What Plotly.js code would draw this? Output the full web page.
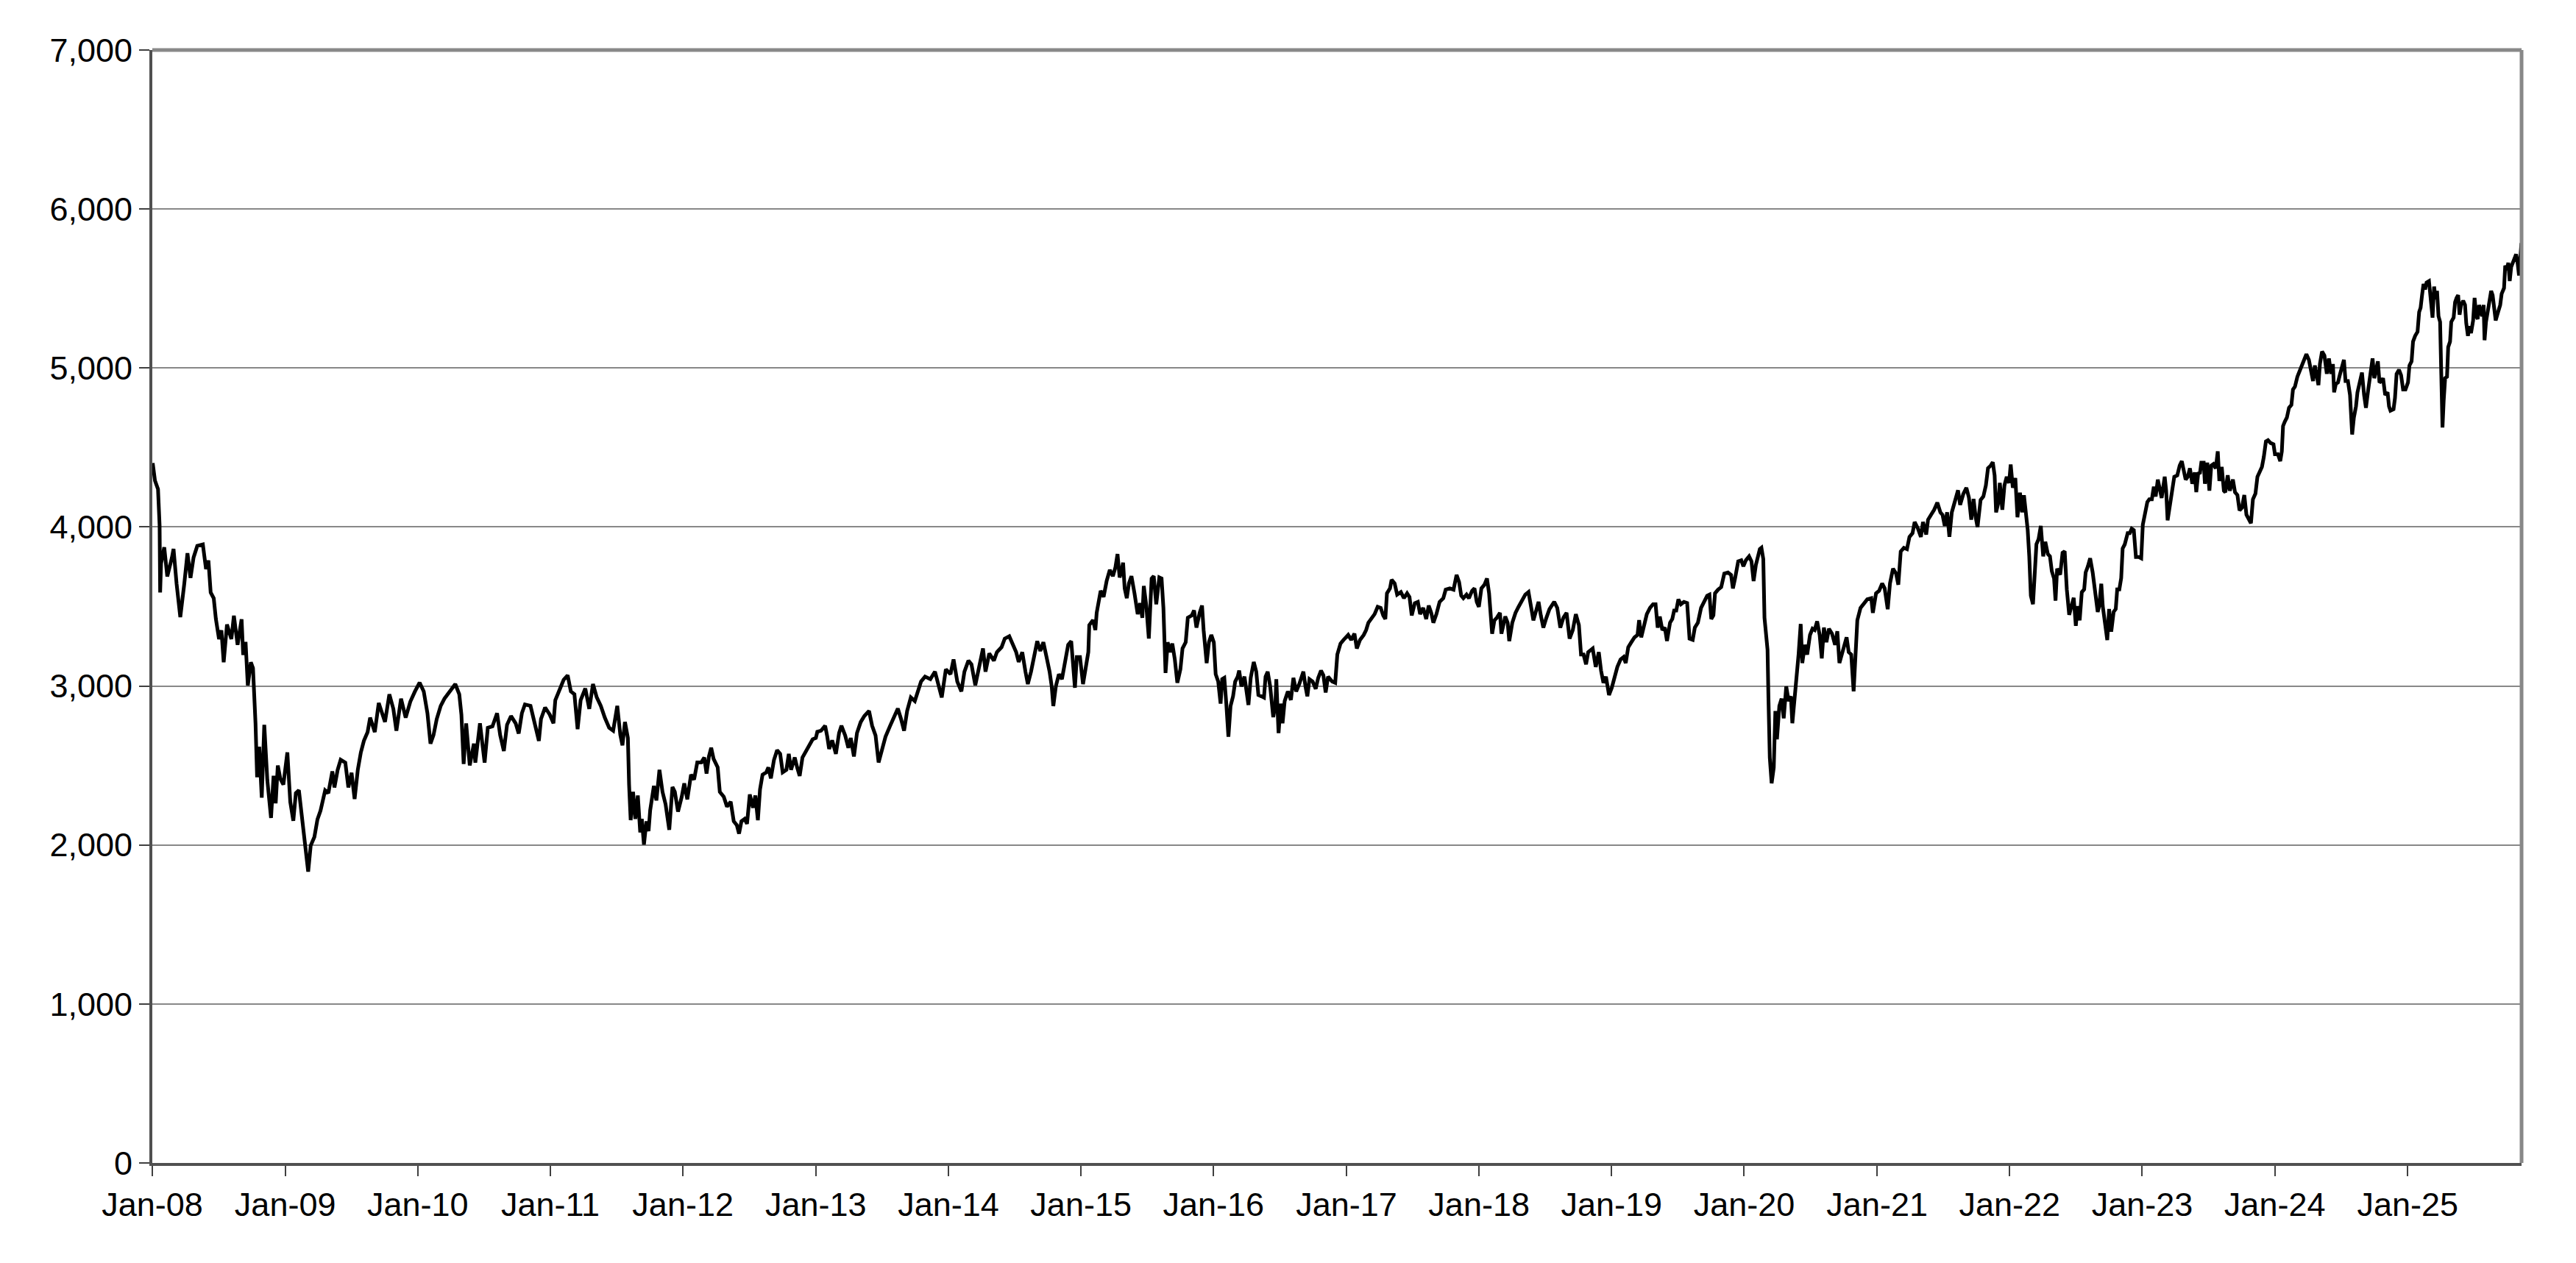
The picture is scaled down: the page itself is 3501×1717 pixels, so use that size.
<!DOCTYPE html>
<html>
<head>
<meta charset="utf-8">
<script src="https://cdn.plot.ly/plotly-3.0.1.min.js"></script>
<style>
  html, body { margin: 0; padding: 0; background: #fff; }
  #chart { width: 3501px; height: 1717px; }
</style>
</head>
<body>
<div id="chart"></div>
<script>
// time in years after 1 Jan 2008
const yearsFromStart = [
  0.003,0.020,0.043,0.055,0.059,0.066,0.090,0.113,0.148,0.160,0.183,0.211,0.241,0.265,0.288,0.311,0.339,0.381,0.405,0.423,
  0.440,0.463,0.479,0.503,0.521,0.538,0.563,0.596,0.615,0.643,0.673,0.685,0.703,0.720,0.743,0.759,0.778,0.790,0.806,0.825,
  0.844,0.867,0.895,0.914,0.930,0.946,0.965,0.988,1.018,1.040,1.063,1.082,1.105,1.128,1.152,1.175,1.194,1.222,1.245,1.268,
  1.303,1.327,1.357,1.373,1.397,1.420,1.455,1.478,1.502,1.525,1.549,1.572,1.595,1.623,1.642,1.677,1.707,1.730,1.754,1.787,
  1.817,1.840,1.875,1.910,1.945,1.980,2.015,2.046,2.074,2.097,2.120,2.144,2.174,2.202,2.237,2.284,2.314,2.330,2.347,2.366,
  2.393,2.424,2.435,2.470,2.505,2.529,2.564,2.599,2.622,2.650,2.674,2.704,2.739,2.762,2.786,2.809,2.851,2.884,2.914,2.930,
  2.961,2.996,3.024,3.038,3.066,3.101,3.131,3.155,3.182,3.206,3.229,3.264,3.294,3.322,3.350,3.381,3.411,3.444,3.474,3.505,
  3.528,3.544,3.563,3.585,3.594,3.606,3.624,3.641,3.660,3.678,3.690,3.706,3.725,3.741,3.753,3.781,3.800,3.823,3.846,3.869,
  3.897,3.921,3.939,3.963,3.991,4.010,4.033,4.061,4.084,4.108,4.138,4.161,4.178,4.196,4.213,4.231,4.262,4.278,4.308,4.332,
  4.360,4.383,4.406,4.423,4.441,4.465,4.483,4.504,4.528,4.546,4.565,4.581,4.600,4.628,4.644,4.663,4.686,4.710,4.733,4.752,
  4.780,4.798,4.815,4.843,4.861,4.880,4.901,4.927,4.955,4.978,5.002,5.013,5.041,5.072,5.088,5.102,5.125,5.153,5.177,5.195,
  5.223,5.247,5.265,5.289,5.312,5.340,5.368,5.403,5.426,5.452,5.475,5.499,5.527,5.562,5.587,5.620,5.643,5.667,5.690,5.718,
  5.748,5.772,5.795,5.825,5.865,5.900,5.928,5.951,5.982,6.017,6.040,6.068,6.099,6.122,6.152,6.175,6.204,6.232,6.262,6.281,
  6.309,6.344,6.367,6.402,6.426,6.460,6.488,6.512,6.531,6.558,6.582,6.600,6.624,6.647,6.671,6.694,6.717,6.741,6.764,6.780,
  6.792,6.811,6.834,6.857,6.881,6.904,6.927,6.944,6.955,6.969,6.993,7.016,7.040,7.056,7.063,7.091,7.109,7.119,7.149,7.171,
  7.194,7.218,7.241,7.260,7.276,7.292,7.306,7.318,7.330,7.346,7.362,7.381,7.404,7.428,7.446,7.463,7.474,7.493,7.512,7.533,
  7.549,7.568,7.591,7.608,7.622,7.638,7.654,7.673,7.689,7.708,7.727,7.750,7.766,7.790,7.806,7.836,7.853,7.871,7.895,7.913,
  7.925,7.948,7.965,7.983,8.002,8.016,8.035,8.053,8.065,8.081,8.096,8.112,8.128,8.147,8.163,8.182,8.193,8.210,8.233,8.249,
  8.263,8.280,8.303,8.322,8.338,8.361,8.380,8.392,8.408,8.427,8.450,8.466,8.473,8.490,8.506,8.520,8.536,8.560,8.583,8.602,
  8.623,8.646,8.677,8.693,8.707,8.723,8.747,8.770,8.789,8.810,8.828,8.845,8.863,8.894,8.917,8.933,8.957,8.980,9.015,9.038,
  9.062,9.080,9.104,9.132,9.150,9.167,9.190,9.214,9.237,9.260,9.279,9.295,9.307,9.330,9.342,9.365,9.384,9.412,9.435,9.459,
  9.477,9.494,9.517,9.540,9.557,9.580,9.603,9.622,9.641,9.657,9.680,9.704,9.732,9.750,9.781,9.809,9.832,9.851,9.867,9.883,
  9.907,9.925,9.949,9.967,9.984,10.000,10.019,10.042,10.061,10.077,10.100,10.117,10.135,10.159,10.170,10.199,10.217,10.229,10.252,10.276,
  10.299,10.327,10.350,10.374,10.392,10.411,10.427,10.450,10.467,10.486,10.509,10.532,10.568,10.591,10.614,10.637,10.661,10.684,10.708,10.731,
  10.754,10.770,10.789,10.808,10.824,10.858,10.881,10.904,10.921,10.939,10.958,10.981,11.002,11.021,11.044,11.068,11.091,11.107,11.126,11.149,
  11.173,11.196,11.208,11.224,11.243,11.266,11.290,11.313,11.332,11.348,11.364,11.383,11.402,11.418,11.441,11.458,11.472,11.488,11.504,11.523,
  11.546,11.570,11.588,11.612,11.628,11.651,11.675,11.698,11.721,11.738,11.752,11.768,11.780,11.803,11.827,11.850,11.878,11.901,11.915,11.931,
  11.955,11.978,11.994,12.013,12.037,12.055,12.071,12.088,12.102,12.118,12.130,12.144,12.153,12.165,12.176,12.183,12.193,12.207,12.223,12.235,
  12.247,12.265,12.282,12.298,12.317,12.335,12.352,12.363,12.382,12.398,12.410,12.426,12.438,12.457,12.475,12.496,12.515,12.531,12.550,12.569,
  12.585,12.601,12.620,12.639,12.662,12.685,12.702,12.718,12.737,12.755,12.772,12.788,12.807,12.825,12.837,12.853,12.877,12.905,12.928,12.958,
  12.970,12.994,13.017,13.040,13.059,13.082,13.099,13.122,13.145,13.162,13.180,13.204,13.227,13.246,13.269,13.285,13.309,13.332,13.348,13.372,
  13.386,13.409,13.432,13.456,13.479,13.495,13.512,13.530,13.547,13.565,13.589,13.612,13.628,13.652,13.675,13.694,13.712,13.729,13.745,13.759,
  13.782,13.803,13.822,13.838,13.857,13.874,13.888,13.899,13.916,13.927,13.946,13.962,13.979,13.997,14.009,14.025,14.044,14.060,14.079,14.095,
  14.109,14.126,14.137,14.149,14.161,14.177,14.189,14.203,14.219,14.236,14.254,14.270,14.289,14.305,14.319,14.336,14.347,14.359,14.382,14.400,
  14.416,14.432,14.450,14.468,14.484,14.500,14.513,14.529,14.545,14.563,14.574,14.590,14.608,14.627,14.642,14.665,14.676,14.692,14.703,14.722,
  14.737,14.751,14.767,14.785,14.801,14.812,14.828,14.842,14.853,14.869,14.891,14.907,14.921,14.937,14.953,14.975,14.993,15.005,15.020,15.039,
  15.054,15.073,15.088,15.102,15.118,15.134,15.147,15.170,15.181,15.192,15.208,15.224,15.242,15.265,15.283,15.299,15.315,15.328,15.344,15.360,
  15.378,15.396,15.408,15.423,15.435,15.446,15.464,15.473,15.491,15.507,15.521,15.537,15.555,15.570,15.582,15.600,15.616,15.627,15.645,15.661,
  15.684,15.700,15.718,15.734,15.752,15.770,15.786,15.801,15.820,15.835,15.854,15.869,15.888,15.903,15.917,15.933,15.949,15.967,15.990,16.001,
  16.023,16.041,16.053,16.062,16.075,16.091,16.107,16.125,16.137,16.152,16.170,16.189,16.204,16.220,16.238,16.257,16.272,16.288,16.302,16.318,
  16.329,16.340,16.356,16.374,16.392,16.408,16.424,16.438,16.447,16.460,16.476,16.492,16.506,16.521,16.533,16.551,16.567,16.583,16.596,16.612,
  16.623,16.641,16.657,16.673,16.687,16.703,16.718,16.737,16.750,16.764,16.777,16.789,16.804,16.816,16.832,16.850,16.861,16.872,16.895,16.906,
  16.918,16.936,16.952,16.967,16.985,17.004,17.015,17.031,17.042,17.058,17.076,17.088,17.099,17.110,17.121,17.133,17.144,17.162,17.178,17.189,
  17.201,17.212,17.223,17.234,17.246,17.253,17.264,17.273,17.284,17.298,17.307,17.321,17.330,17.348,17.359,17.370,17.382,17.393,17.404,17.420,
  17.434,17.443,17.456,17.466,17.479,17.495,17.506,17.518,17.529,17.540,17.552,17.563,17.574,17.581,17.592,17.601,17.615,17.631,17.642,17.653,
  17.665,17.683,17.699,17.710,17.728,17.737,17.751,17.760,17.771,17.782,17.796,17.805,17.819,17.830,17.841,17.850,17.859
]

// index level at each of those times
const indexLevel = [
  4402,4292,4238,4009,3588,3771,3872,3689,3808,3862,3643,3433,3643,3835,3680,3808,3881,3890,3735,3790,
  3588,3552,3423,3295,3350,3149,3387,3295,3442,3259,3420,3195,3277,3003,3149,3112,2765,2426,2618,2298,
  2756,2408,2170,2435,2262,2500,2417,2380,2582,2271,2152,2326,2344,2179,1978,1832,1996,2051,2161,2216,
  2344,2326,2463,2362,2472,2536,2518,2362,2454,2289,2472,2582,2655,2710,2801,2710,2893,2838,2774,2948,
  2856,2719,2920,2801,2902,2966,3021,2966,2829,2637,2692,2792,2875,2920,2957,3012,2948,2820,2509,2765,
  2500,2637,2518,2765,2518,2737,2746,2829,2692,2591,2756,2811,2765,2701,2829,2884,2875,2756,2655,2792,
  2865,2820,2765,2911,2975,3039,3067,2966,2948,2728,2911,2984,2856,3012,2929,2875,2801,2737,2719,2875,
  2692,2627,2774,2673,2380,2156,2334,2164,2311,2079,2164,2002,2149,2087,2218,2372,2280,2473,2334,2257,
  2095,2365,2334,2210,2303,2388,2287,2442,2411,2519,2519,2550,2449,2557,2611,2542,2488,2334,2303,2241,
  2272,2149,2125,2071,2149,2164,2133,2318,2234,2311,2156,2349,2442,2457,2488,2419,2534,2596,2573,2457,
  2473,2573,2473,2550,2488,2434,2550,2588,2627,2665,2673,2712,2719,2750,2681,2604,2658,2573,2704,2750,
  2689,2611,2673,2557,2704,2773,2812,2843,2750,2689,2519,2604,2681,2750,2796,2858,2796,2719,2843,2928,
  2905,2974,3028,3059,3043,3090,2997,2928,3105,3074,3167,3028,2966,3090,3159,3136,3005,3120,3236,3090,
  3205,3159,3213,3244,3298,3313,3259,3213,3151,3213,3090,3012,3090,3182,3282,3220,3275,3182,3090,2997,
  2874,2997,3074,3043,3167,3259,3282,3120,2989,3182,3182,3012,3151,3213,3383,3414,3352,3460,3599,3560,
  3660,3730,3691,3745,3830,3683,3722,3776,3614,3552,3645,3691,3583,3452,3521,3429,3629,3506,3298,3676,
  3691,3514,3683,3676,3491,3082,3275,3213,3267,3167,3020,3105,3236,3275,3429,3444,3475,3367,3460,3506,
  3352,3144,3275,3321,3275,3074,3028,2889,3043,3051,2889,2681,2874,2935,3028,3059,3097,2997,3059,2943,
  2881,3051,3151,3090,2943,2935,2927,3059,3090,2997,2804,2881,3043,2704,2889,2766,2905,2966,2912,3051,
  2966,3012,3090,2997,2935,3043,3028,2982,3051,3097,3067,2959,3059,3028,3020,3198,3267,3290,3321,3290,
  3329,3236,3290,3321,3352,3398,3429,3452,3498,3491,3444,3421,3583,3614,3668,3645,3575,3591,3552,3583,
  3560,3444,3521,3529,3452,3491,3421,3506,3460,3398,3452,3529,3552,3606,3614,3606,3699,3653,3568,3552,
  3575,3552,3599,3614,3529,3498,3614,3637,3676,3583,3329,3413,3429,3460,3329,3437,3398,3282,3398,3460,
  3498,3545,3575,3591,3514,3413,3460,3529,3444,3367,3429,3483,3529,3491,3367,3429,3460,3298,3352,3452,
  3383,3198,3198,3136,3213,3236,3120,3213,3097,3020,3059,2943,2989,3051,3120,3167,3182,3144,3244,3275,
  3306,3321,3414,3306,3383,3452,3491,3514,3514,3367,3437,3352,3367,3283,3398,3421,3475,3475,3545,3514,
  3529,3522,3298,3290,3367,3398,3491,3537,3568,3575,3421,3444,3583,3606,3622,3707,3714,3699,3614,3676,
  3784,3791,3753,3791,3815,3784,3660,3761,3815,3861,3869,3799,3429,3321,3228,2920,2550,2388,2488,2843,
  2665,2874,2920,2797,2997,2905,2935,2766,2920,3097,3198,3390,3144,3259,3198,3321,3360,3352,3406,3321,
  3174,3367,3275,3360,3329,3259,3344,3144,3198,3259,3306,3213,3198,2966,3198,3414,3491,3522,3545,3552,
  3460,3583,3599,3645,3614,3483,3645,3738,3707,3637,3846,3869,3861,3938,3961,4031,3992,3938,4031,3953,
  4046,4077,4108,4154,4092,4077,4007,4092,3938,4092,4170,4231,4139,4208,4247,4185,4046,4177,4061,4000,
  4170,4192,4262,4370,4385,4408,4324,4092,4154,4277,4108,4262,4316,4277,4393,4247,4308,4061,4216,4092,
  4200,4061,3984,3815,3568,3514,3738,3892,3923,4007,3815,3907,3830,3815,3722,3676,3537,3738,3700,3838,
  3847,3608,3448,3519,3555,3378,3502,3413,3590,3608,3714,3750,3803,3714,3625,3466,3502,3643,3502,3378,
  3289,3484,3342,3466,3484,3608,3608,3679,3865,3891,3962,3962,3989,3980,3811,3811,3803,4015,4086,4157,
  4174,4174,4254,4192,4298,4245,4183,4316,4228,4042,4139,4210,4316,4325,4387,4414,4360,4298,4316,4369,
  4272,4343,4219,4343,4334,4405,4405,4272,4405,4228,4387,4396,4369,4476,4290,4378,4228,4219,4325,4228,
  4298,4219,4201,4104,4121,4201,4077,4051,4024,4174,4210,4316,4352,4378,4440,4538,4546,4529,4520,4458,
  4458,4414,4476,4635,4662,4688,4750,4768,4865,4883,4945,4989,5007,5060,5087,5051,4980,4918,5016,4918,
  4892,5025,5104,5078,4963,5060,4963,5025,4847,4900,4909,4963,5007,5051,4918,4918,4830,4582,4688,4759,
  4847,4909,4971,4830,4750,4856,4936,5060,4936,4998,5042,4909,4918,4936,4830,4847,4759,4732,4741,4812,
  4963,4989,4954,4865,4865,4909,5016,5042,5166,5202,5228,5352,5379,5458,5529,5494,5538,5547,5414,5317,
  5512,5432,5485,5326,5290,4883,4626,4794,4936,4945,5131,5166,5290,5317,5414,5441,5458,5335,5396,5423,
  5396,5282,5202,5264,5219,5299,5441,5326,5308,5396,5352,5326,5396,5175,5290,5343,5432,5485,5458,5361,
  5299,5352,5396,5467,5503,5644,5618,5662,5547,5636,5662,5689,5715,5662,5582,5680,5786
]

const axisStartYear = 0
const axisEndYear = 17.86
const yTickValues = [0, 1000, 2000, 3000, 4000, 5000, 6000, 7000]

const DAY_MS = 86400000
const START_MS = Date.UTC(2008, 0, 1)

function toDate(yrs) {
  const d = new Date(START_MS + yrs * 365.25 * DAY_MS)
  return d.toISOString().slice(0, 19).replace('T', ' ')
}

const tickFont = { family: 'Liberation Sans, Arial, sans-serif', size: 45, color: '#000000' }

const traces = [{
  x: yearsFromStart.map(toDate),
  y: indexLevel,
  type: 'scatter',
  mode: 'lines',
  line: { color: '#000000', width: 5 },
  hoverinfo: 'skip'
}]

const layout = {
  width: 3501,
  height: 1717,
  paper_bgcolor: '#ffffff',
  plot_bgcolor: '#ffffff',
  showlegend: false,
  margin: { l: 207, r: 74, t: 68, b: 136, pad: 0 },
  xaxis: {
    type: 'date',
    range: [toDate(axisStartYear), toDate(axisEndYear)],
    tick0: '2008-01-01',
    dtick: 'M12',
    tickformat: '%b-%y',
    ticks: 'outside',
    ticklen: 14,
    tickwidth: 2,
    tickcolor: '#404040',
    showline: true,
    linecolor: '#505050',
    linewidth: 4,
    showgrid: false,
    zeroline: false,
    tickfont: tickFont
  },
  yaxis: {
    range: [0, 7000],
    tickvals: yTickValues,
    tickformat: ',d',
    ticks: 'outside',
    ticklen: 14,
    tickwidth: 2,
    tickcolor: '#404040',
    showline: true,
    linecolor: '#505050',
    linewidth: 4,
    showgrid: true,
    gridcolor: '#888888',
    gridwidth: 2,
    zeroline: false,
    tickfont: tickFont
  },
  shapes: [
    // grey frame on top and right, like the source
    { type: 'line', xref: 'paper', yref: 'paper', x0: 0, x1: 1, y0: 1, y1: 1, line: { color: '#888888', width: 5 } },
    { type: 'line', xref: 'paper', yref: 'paper', x0: 1, x1: 1, y0: 0, y1: 1, line: { color: '#888888', width: 5 } }
  ]
}

Plotly.newPlot('chart', traces, layout, { displayModeBar: false, staticPlot: true })
</script>
</body>
</html>
